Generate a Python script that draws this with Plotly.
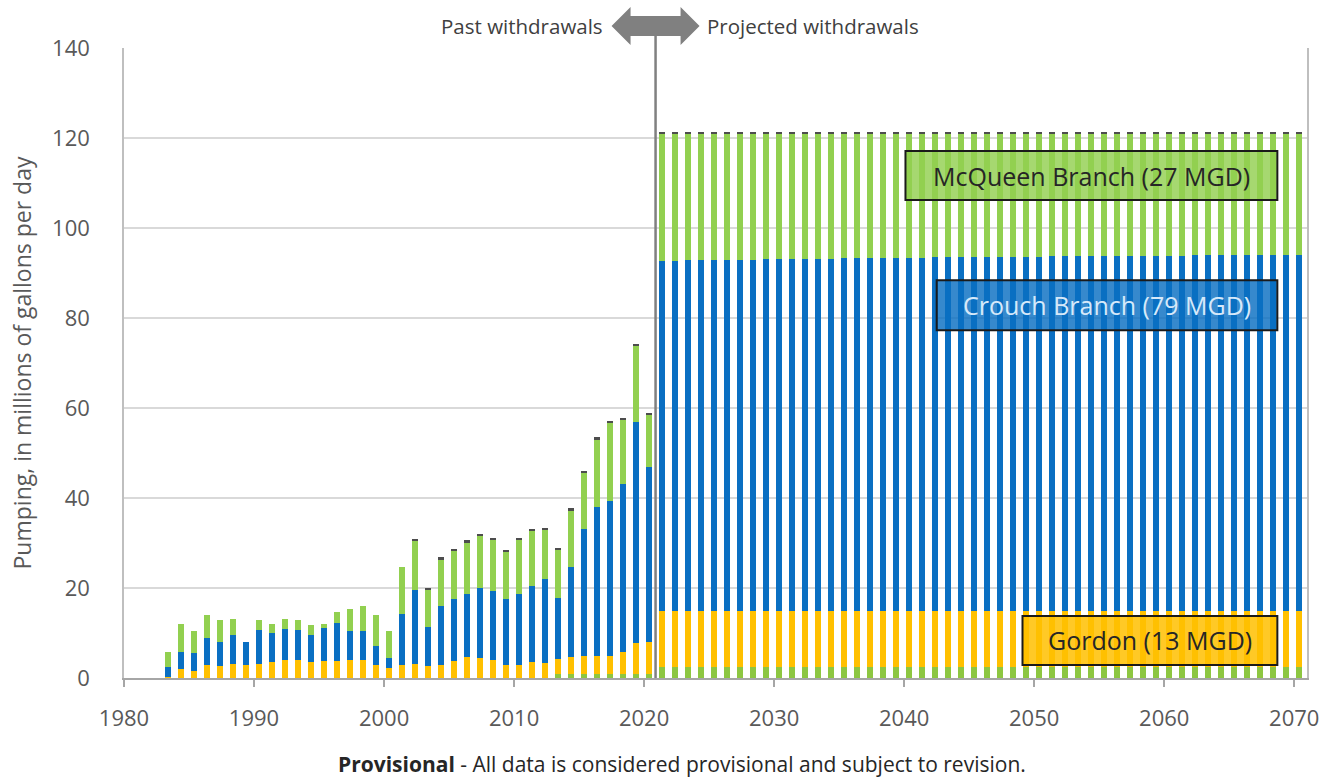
import plotly.graph_objects as go

# ---------------- data ----------------
years_hist = list(range(1983, 2021))
years_proj = list(range(2021, 2071))

other_hist = [0.0, 0.0, 0.0, 0.0, 0.0, 0.0, 0.0, 0.0, 0.0, 0.0,
              0.0, 0.0, 0.0, 0.0, 0.0, 0.0, 0.0, 0.0, 0.0, 0.0,
              0.0, 0.0, 0.0, 0.0, 0.0, 0.0, 0.0, 0.0, 0.0, 0.0,
              1.0, 1.0, 1.0, 1.0, 1.0, 1.0, 1.0, 1.0]
gordon_hist = [0.3, 1.9, 1.5, 3.0, 2.6, 3.2, 3.0, 3.2, 3.5, 4.1,
               4.1, 3.5, 3.7, 3.7, 4.1, 4.1, 3.0, 2.2, 3.0, 3.1,
               2.6, 2.8, 3.7, 4.7, 4.4, 4.1, 3.0, 3.0, 3.6, 3.3,
               3.3, 3.6, 4.0, 4.0, 3.8, 4.8, 6.8, 7.1]
crouch_hist = [2.1, 3.8, 4.1, 5.9, 5.4, 6.3, 5.0, 7.5, 6.4, 6.9,
               6.6, 6.0, 7.4, 8.5, 6.4, 6.3, 4.2, 2.3, 11.2, 16.4,
               8.7, 13.3, 13.9, 14.0, 15.6, 15.2, 14.6, 15.7, 16.9, 18.7,
               13.5, 20.1, 28.2, 33.1, 34.6, 37.4, 49.2, 38.9]
mcqueen_hist = [3.4, 6.2, 4.8, 5.0, 5.0, 3.7, 0.0, 2.3, 2.0, 2.2,
                2.3, 2.2, 0.9, 2.5, 4.9, 5.7, 6.7, 6.0, 10.5, 11.0,
                8.3, 10.3, 10.7, 11.5, 11.7, 11.4, 10.4, 12.0, 12.3, 11.0,
                10.7, 12.6, 12.4, 15.0, 17.4, 14.2, 16.9, 11.5]
cap_hist = [0.0, 0.0, 0.0, 0.0, 0.0, 0.0, 0.0, 0.0, 0.0, 0.0,
            0.0, 0.0, 0.0, 0.0, 0.0, 0.0, 0.0, 0.0, 0.0, 0.4,
            0.4, 0.4, 0.4, 0.4, 0.4, 0.4, 0.4, 0.4, 0.4, 0.4,
            0.4, 0.4, 0.4, 0.4, 0.4, 0.4, 0.4, 0.4]

other_proj = [2.4, 2.4, 2.4, 2.4, 2.4, 2.4, 2.4, 2.4, 2.4, 2.4,
              2.4, 2.4, 2.4, 2.4, 2.4, 2.4, 2.4, 2.4, 2.4, 2.4,
              2.4, 2.4, 2.4, 2.4, 2.4, 2.4, 2.4, 2.4, 2.4, 2.4,
              2.4, 2.4, 2.4, 2.4, 2.4, 2.4, 2.4, 2.4, 2.4, 2.4,
              2.4, 2.4, 2.4, 2.4, 2.4, 2.4, 2.4, 2.4, 2.4, 2.4]
gordon_proj = [12.4, 12.4, 12.4, 12.4, 12.4, 12.4, 12.4, 12.4, 12.4, 12.4,
               12.4, 12.4, 12.4, 12.4, 12.4, 12.4, 12.4, 12.4, 12.4, 12.4,
               12.4, 12.4, 12.4, 12.4, 12.4, 12.4, 12.4, 12.4, 12.4, 12.4,
               12.4, 12.4, 12.4, 12.4, 12.4, 12.4, 12.4, 12.4, 12.4, 12.4,
               12.4, 12.4, 12.4, 12.4, 12.4, 12.4, 12.4, 12.4, 12.4, 12.4]
crouch_proj = [77.8, 77.9, 78.0, 78.0, 78.1, 78.1, 78.2, 78.2, 78.3, 78.3,
               78.3, 78.4, 78.4, 78.4, 78.5, 78.5, 78.5, 78.6, 78.6, 78.6,
               78.6, 78.7, 78.7, 78.7, 78.7, 78.8, 78.8, 78.8, 78.8, 78.8,
               78.9, 78.9, 78.9, 78.9, 78.9, 79.0, 79.0, 79.0, 79.0, 79.0,
               79.0, 79.1, 79.1, 79.1, 79.1, 79.1, 79.1, 79.2, 79.2, 79.2]
mcqueen_proj = [28.4, 28.3, 28.2, 28.2, 28.1, 28.1, 28.0, 28.0, 27.9, 27.9,
                27.9, 27.8, 27.8, 27.8, 27.7, 27.7, 27.7, 27.6, 27.6, 27.6,
                27.6, 27.5, 27.5, 27.5, 27.5, 27.4, 27.4, 27.4, 27.4, 27.4,
                27.3, 27.3, 27.3, 27.3, 27.3, 27.2, 27.2, 27.2, 27.2, 27.2,
                27.2, 27.1, 27.1, 27.1, 27.1, 27.1, 27.1, 27.0, 27.0, 27.0]
cap_proj = [0.4, 0.4, 0.4, 0.4, 0.4, 0.4, 0.4, 0.4, 0.4, 0.4,
            0.4, 0.4, 0.4, 0.4, 0.4, 0.4, 0.4, 0.4, 0.4, 0.4,
            0.4, 0.4, 0.4, 0.4, 0.4, 0.4, 0.4, 0.4, 0.4, 0.4,
            0.4, 0.4, 0.4, 0.4, 0.4, 0.4, 0.4, 0.4, 0.4, 0.4,
            0.4, 0.4, 0.4, 0.4, 0.4, 0.4, 0.4, 0.4, 0.4, 0.4]

x_ticks = [1980, 1990, 2000, 2010, 2020, 2030, 2040, 2050, 2060, 2070]
y_ticks = [0, 20, 40, 60, 80, 100, 120, 140]

years = years_hist + years_proj
series = [
    ("Other", other_hist + other_proj, "#8DC641"),
    ("Gordon", gordon_hist + gordon_proj, "#FFC000"),
    ("Crouch Branch", crouch_hist + crouch_proj, "#0A6FC2"),
    ("McQueen Branch", mcqueen_hist + mcqueen_proj, "#92D050"),
    ("Cap", cap_hist + cap_proj, "#4d4d4d"),
]

FONT = "Open Sans"
fig = go.Figure()
for name, vals, col in series:
    fig.add_trace(go.Bar(x=years, y=vals, name=name, marker_color=col,
                         marker_line_width=0, width=0.48, offset=0.13,
                         showlegend=False))

fig.update_layout(
    barmode="stack",
    width=1344, height=779,
    margin=dict(l=124, r=37, t=48, b=101),
    plot_bgcolor="white", paper_bgcolor="white",
    font=dict(family=FONT, color="#595959"),
    xaxis=dict(range=[1980, 2070.98], tickvals=x_ticks, showgrid=False,
               showline=True, linecolor="#A6A6A6", linewidth=2,
               ticks="outside", ticklen=7, tickwidth=2, tickcolor="#A6A6A6",
               ticklabelstandoff=13,
               tickfont=dict(size=22, color="#595959", family=FONT), zeroline=False),
    yaxis=dict(range=[0, 140], tickvals=y_ticks, showgrid=True,
               gridcolor="#D9D9D9", gridwidth=2, showline=True, mirror=True,
               linecolor="#BFBFBF", linewidth=1.5, ticks="", zeroline=False,
               ticklabelstandoff=28,
               tickfont=dict(size=22, color="#595959", family=FONT),
               title=dict(text="Pumping, in millions of gallons per day",
                          font=dict(size=23, color="#595959", family=FONT),
                          standoff=14)),
)

# divider line and arrow
XDIV = 2020.88
fig.add_shape(type="line", xref="x", yref="paper", x0=XDIV, x1=XDIV,
              y0=0, y1=1.035, line=dict(color="#808080", width=2.5), layer="above")
fig.add_shape(type="path", xref="x", yref="paper", xsizemode="pixel", ysizemode="pixel",
              xanchor=XDIV, yanchor=1.035,
              path="M -44,0 L -25,19 L -25,10 L 25,10 L 25,19 L 44,0 L 25,-19 L 25,-10 L -25,-10 L -25,-19 Z",
              fillcolor="#808080", line=dict(width=0), layer="above")
fig.add_annotation(x=XDIV, y=1.035, xref="x", yref="paper", xanchor="right",
                   yanchor="middle", xshift=-51, showarrow=False,
                   text="Past withdrawals", font=dict(size=20.5, color="#404040", family=FONT))
fig.add_annotation(x=XDIV, y=1.035, xref="x", yref="paper", xanchor="left",
                   yanchor="middle", xshift=49, showarrow=False,
                   text="Projected withdrawals", font=dict(size=20.5, color="#404040", family=FONT))

# label boxes
boxes = [
    (2040.1, 2068.7, 106.2, 117.1, "rgba(146,208,80,0.82)", "McQueen Branch (27 MGD)", "#262626"),
    (2042.5, 2068.7, 77.3, 88.4, "rgba(10,111,194,0.82)", "Crouch Branch (79 MGD)", "#D6E9FA"),
    (2049.1, 2068.7, 2.9, 13.8, "rgba(255,192,0,0.85)", "Gordon (13 MGD)", "#262626"),
]
for x0, x1, y0, y1, fill, txt, tcol in boxes:
    fig.add_shape(type="rect", xref="x", yref="y", x0=x0, x1=x1, y0=y0, y1=y1,
                  fillcolor=fill, line=dict(color="#1a1a1a", width=2), layer="above")
    fig.add_annotation(x=(x0 + x1) / 2, y=(y0 + y1) / 2, xref="x", yref="y",
                       showarrow=False, text=txt,
                       font=dict(size=25, color=tcol, family=FONT))

fig.add_annotation(x=(682 - 124) / (1344 - 124 - 37), y=-0.137, xref="paper", yref="paper",
                   xanchor="center", yanchor="middle", showarrow=False,
                   text="<b>Provisional</b> - All data is considered provisional and subject to revision.",
                   font=dict(size=21, color="#262626", family=FONT))

fig.write_html("out.html", config={"displayModeBar": False},
               post_script="document.body.style.margin='0px';")
